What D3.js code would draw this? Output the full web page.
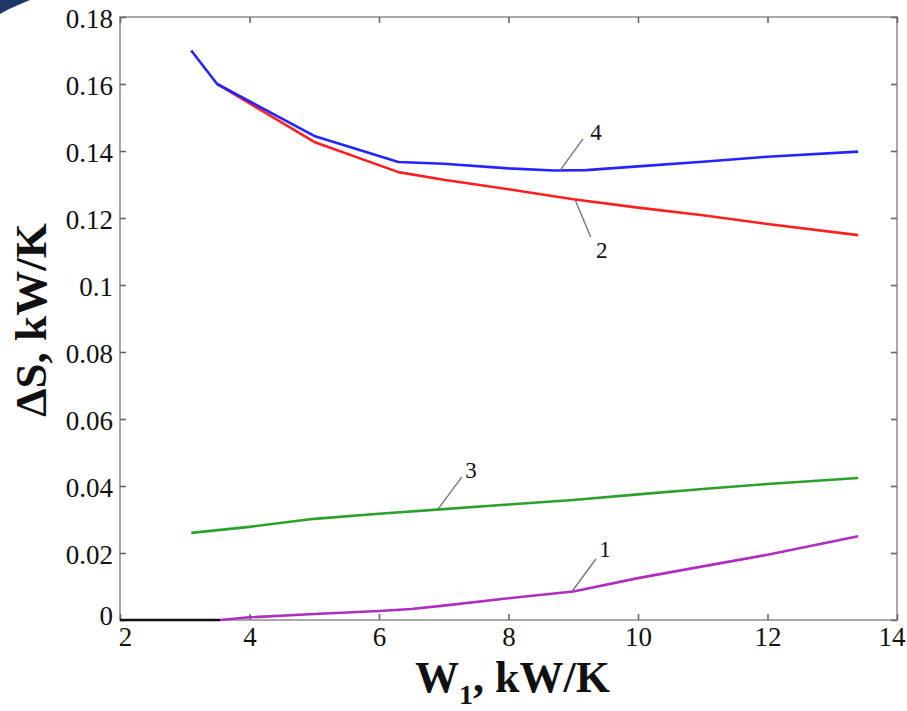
<!DOCTYPE html>
<html>
<head>
<meta charset="utf-8">
<script src="https://cdn.jsdelivr.net/npm/d3@7"></script>
<style>
    html, body { margin: 0; padding: 0; background: #fff; }
    svg { display: block; }
    svg text { font-family: 'Liberation Serif', 'DejaVu Serif', serif; }
</style>
</head>
<body>
<div id="chart"></div>
<script>
// 軸の目盛り
const xTicks = [2, 4, 6, 8, 10, 12, 14];
const yTicks = [0, 0.02, 0.04, 0.06, 0.08, 0.1, 0.12, 0.14, 0.16, 0.18];

// 曲線データ (W1, ΔS)
const curve0X = [2, 3.55];
const curve0Y = [0, 0];

const curve1X = [3.55, 4, 5, 6, 6.5, 7, 8, 9, 10, 11, 12, 13.4];
const curve1Y = [0, 0.0008, 0.0018, 0.0027, 0.0033, 0.0043, 0.0065, 0.0085, 0.0125, 0.016, 0.0195, 0.025];

const curve2X = [3.5, 5, 6.3, 7, 8, 9, 10, 11, 12, 13.4];
const curve2Y = [0.16, 0.1427, 0.1337, 0.1314, 0.1286, 0.1256, 0.1231, 0.1208, 0.1182, 0.1149];

const curve3X = [3.1, 4, 5, 6, 7, 8, 9, 10, 11, 12, 13.4];
const curve3Y = [0.026, 0.0278, 0.0302, 0.0317, 0.0331, 0.0345, 0.0358, 0.0375, 0.0391, 0.0406, 0.0424];

const curve4X = [3.1, 3.5, 5, 6.3, 7, 8, 8.7, 9.2, 10, 11, 12, 13.4];
const curve4Y = [0.17, 0.16, 0.1445, 0.1367, 0.1362, 0.1348, 0.1342, 0.1343, 0.1354, 0.1368, 0.1383, 0.1398];

// 曲線番号ラベル (引き出し線の始点・終点, 文字位置)
const labelNames = ['1', '2', '3', '4'];
const labelFrom = [[8.98, 0.0085], [9.03, 0.1254], [6.9, 0.0328], [8.8, 0.1343]];
const labelTo = [[9.35, 0.0182], [9.27, 0.1143], [7.28, 0.0427], [9.15, 0.1436]];
const labelAt = [[9.49, 0.0212], [9.44, 0.1104], [7.42, 0.0448], [9.35, 0.1457]];

function drawChart() {
    const width = 907;
    const height = 711;
    const margin = { top: 17, right: 10, bottom: 91, left: 120 };
    const fontFamily = 'Liberation Serif, DejaVu Serif, serif';

    const svg = d3.select('#chart')
        .append('svg')
        .attr('width', width)
        .attr('height', height)
        .attr('font-family', fontFamily);

    // 左上の装飾の切れ端
    svg.append('path')
        .attr('d', 'M0,0 L30,0 C21,4 10,8 0,14 Z')
        .attr('fill', '#1d3a66');

    const x = d3.scaleLinear()
        .domain([2, 14])
        .range([margin.left, width - margin.right]);

    const y = d3.scaleLinear()
        .domain([0, 0.18])
        .range([height - margin.bottom, margin.top]);

    // 枠
    svg.append('rect')
        .attr('x', x(2))
        .attr('y', y(0.18))
        .attr('width', x(14) - x(2))
        .attr('height', y(0) - y(0.18))
        .attr('fill', 'none')
        .attr('stroke', '#a8a8a8')
        .attr('stroke-width', 2);

    // 軸 (目盛りは内向き)
    const fmtY = d => String(+d.toFixed(2));

    const xAxis = svg.append('g')
        .attr('transform', `translate(0,${y(0)})`)
        .call(d3.axisBottom(x).tickValues(xTicks).tickSize(-6).tickPadding(6));

    const yAxis = svg.append('g')
        .attr('transform', `translate(${x(2)},0)`)
        .call(d3.axisLeft(y).tickValues(yTicks).tickSize(-6).tickPadding(7).tickFormat(fmtY));

    const xTop = svg.append('g')
        .attr('transform', `translate(0,${y(0.18)})`)
        .call(d3.axisTop(x).tickValues(xTicks).tickSize(-6).tickFormat(''));

    const yRight = svg.append('g')
        .attr('transform', `translate(${x(14)},0)`)
        .call(d3.axisRight(y).tickValues(yTicks).tickSize(-6).tickFormat(''));

    [xAxis, yAxis, xTop, yRight].forEach(a => {
        a.attr('font-family', fontFamily).attr('font-size', 27);
        a.select('.domain').remove();
        a.selectAll('.tick line')
            .attr('stroke', '#666')
            .attr('stroke-width', 1.6);
        a.selectAll('.tick text')
            .attr('fill', '#111');
    });

    yAxis.selectAll('.tick text').attr('dy', d => d === 0 ? '0.18em' : '0.4em');
    xAxis.selectAll('.tick text').attr('dy', '0.75em');
    // 端の目盛りラベルは少し内側へ
    xAxis.selectAll('.tick text')
        .filter(d => d === 2)
        .attr('dx', 5);
    xAxis.selectAll('.tick text')
        .filter(d => d === 14)
        .attr('text-anchor', 'end')
        .attr('dx', 8);

    // 曲線
    const line = d3.line()
        .x(d => x(d[0]))
        .y(d => y(d[1]));

    const series = [
        { xs: curve0X, ys: curve0Y, color: '#111111' },
        { xs: curve1X, ys: curve1Y, color: '#b02ebf' },
        { xs: curve3X, ys: curve3Y, color: '#2ca02c' },
        { xs: curve2X, ys: curve2Y, color: '#ff1f1f' },
        { xs: curve4X, ys: curve4Y, color: '#2424ff' }
    ];

    svg.append('g')
        .selectAll('path')
        .data(series)
        .enter()
        .append('path')
        .attr('fill', 'none')
        .attr('stroke', d => d.color)
        .attr('stroke-width', 2.6)
        .attr('stroke-linejoin', 'round')
        .attr('d', d => line(d.xs.map((v, i) => [v, d.ys[i]])));

    // 番号ラベルと引き出し線
    const labels = svg.append('g')
        .selectAll('g')
        .data(labelNames)
        .enter()
        .append('g');

    labels.append('line')
        .attr('x1', (d, i) => x(labelFrom[i][0]))
        .attr('y1', (d, i) => y(labelFrom[i][1]))
        .attr('x2', (d, i) => x(labelTo[i][0]))
        .attr('y2', (d, i) => y(labelTo[i][1]))
        .attr('stroke', '#777')
        .attr('stroke-width', 1.4);

    labels.append('text')
        .attr('x', (d, i) => x(labelAt[i][0]))
        .attr('y', (d, i) => y(labelAt[i][1]))
        .attr('text-anchor', 'middle')
        .attr('dy', '0.35em')
        .attr('font-size', 23)
        .attr('fill', '#111')
        .text(d => d);

    // 軸タイトル
    const xTitle = svg.append('text')
        .attr('x', 415)
        .attr('y', 692)
        .attr('font-size', 44)
        .attr('font-weight', 'bold')
        .attr('fill', '#111');
    xTitle.append('tspan').text('W');
    xTitle.append('tspan')
        .attr('dy', 12)
        .attr('font-size', 28)
        .text('1');
    xTitle.append('tspan')
        .attr('dy', -12)
        .text(', kW/K');

    svg.append('text')
        .attr('transform', 'translate(46,320) rotate(-90)')
        .attr('text-anchor', 'middle')
        .attr('font-size', 45)
        .attr('font-weight', 'bold')
        .attr('fill', '#111')
        .text('ΔS, kW/K');
}

document.addEventListener('DOMContentLoaded', drawChart);
</script>
</body>
</html>
